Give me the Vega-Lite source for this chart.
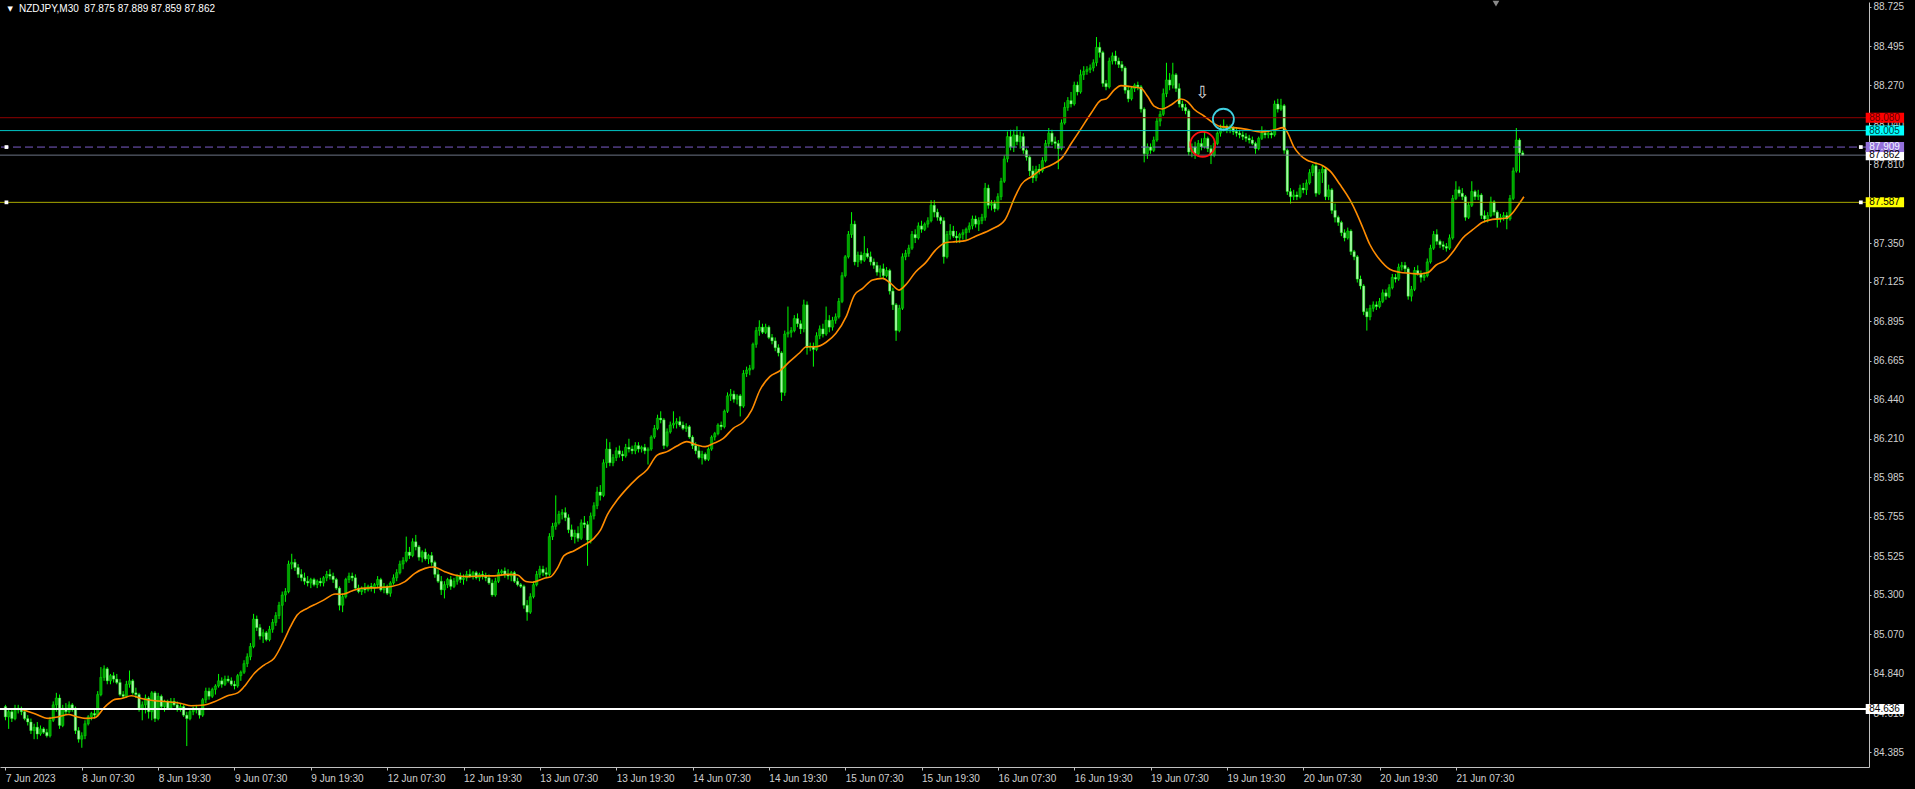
{
"$schema": "https://vega.github.io/schema/vega-lite/v6.json",
"width": 1869, "height": 765,
"autosize": {"type": "none"},
"padding": {"left": 0, "top": 2, "right": 46, "bottom": 22},
"background": "#000000",
"config": {"view": {"stroke": null}, "font": "Liberation Sans"},
"layer": [
{
"data": {"values": "i,o,h,l,c\n0,84.65,84.66,84.57,84.59\n1,84.59,84.64,84.52,84.62\n2,84.62,84.63,84.56,84.58\n3,84.58,84.66,84.57,84.64\n4,84.64,84.66,84.61,84.63\n5,84.63,84.65,84.60,84.62\n6,84.62,84.63,84.57,84.58\n7,84.58,84.60,84.54,84.56\n8,84.56,84.58,84.49,84.51\n9,84.51,84.55,84.46,84.53\n10,84.53,84.56,84.46,84.49\n11,84.49,84.54,84.48,84.52\n12,84.52,84.53,84.49,84.50\n13,84.50,84.52,84.47,84.48\n14,84.48,84.59,84.47,84.57\n15,84.57,84.68,84.56,84.66\n16,84.66,84.73,84.62,84.70\n17,84.70,84.72,84.52,84.54\n18,84.54,84.66,84.53,84.64\n19,84.64,84.67,84.60,84.62\n20,84.62,84.68,84.61,84.66\n21,84.66,84.67,84.62,84.64\n22,84.64,84.65,84.49,84.51\n23,84.51,84.53,84.44,84.46\n24,84.46,84.50,84.41,84.48\n25,84.48,84.57,84.46,84.55\n26,84.55,84.60,84.54,84.59\n27,84.59,84.62,84.57,84.61\n28,84.61,84.63,84.58,84.60\n29,84.60,84.74,84.59,84.72\n30,84.72,84.88,84.71,84.82\n31,84.82,84.89,84.80,84.87\n32,84.87,84.88,84.78,84.80\n33,84.80,84.84,84.78,84.83\n34,84.83,84.85,84.79,84.81\n35,84.81,84.84,84.78,84.79\n36,84.79,84.81,84.71,84.72\n37,84.72,84.74,84.70,84.71\n38,84.71,84.80,84.70,84.78\n39,84.78,84.86,84.76,84.80\n40,84.80,84.81,84.72,84.73\n41,84.73,84.76,84.70,84.72\n42,84.72,84.73,84.62,84.64\n43,84.64,84.68,84.57,84.66\n44,84.66,84.72,84.61,84.70\n45,84.70,84.71,84.58,84.62\n46,84.62,84.74,84.57,84.73\n47,84.73,84.74,84.56,84.58\n48,84.58,84.73,84.57,84.71\n49,84.71,84.72,84.63,84.65\n50,84.65,84.69,84.62,84.68\n51,84.68,84.69,84.63,84.64\n52,84.64,84.70,84.63,84.68\n53,84.68,84.70,84.65,84.66\n54,84.66,84.68,84.62,84.64\n55,84.64,84.67,84.62,84.65\n56,84.65,84.66,84.59,84.60\n57,84.60,84.62,84.42,84.58\n58,84.58,84.63,84.57,84.62\n59,84.62,84.65,84.60,84.64\n60,84.64,84.66,84.61,84.63\n61,84.63,84.64,84.58,84.60\n62,84.60,84.70,84.59,84.69\n63,84.69,84.76,84.67,84.74\n64,84.74,84.76,84.69,84.71\n65,84.71,84.76,84.70,84.75\n66,84.75,84.78,84.72,84.77\n67,84.77,84.84,84.76,84.80\n68,84.80,84.82,84.76,84.78\n69,84.78,84.83,84.77,84.81\n70,84.81,84.83,84.79,84.80\n71,84.80,84.82,84.77,84.78\n72,84.78,84.80,84.75,84.77\n73,84.77,84.84,84.76,84.83\n74,84.83,84.86,84.80,84.85\n75,84.85,84.92,84.84,84.90\n76,84.90,84.96,84.88,84.94\n77,84.94,85.02,84.92,85.00\n78,85.00,85.19,84.99,85.16\n79,85.16,85.18,85.09,85.11\n80,85.11,85.13,85.04,85.06\n81,85.06,85.10,85.02,85.08\n82,85.08,85.09,85.03,85.04\n83,85.04,85.12,85.03,85.10\n84,85.10,85.16,85.08,85.14\n85,85.14,85.20,85.12,85.18\n86,85.18,85.26,85.16,85.24\n87,85.24,85.32,85.08,85.30\n88,85.30,85.34,85.26,85.32\n89,85.32,85.50,85.31,85.48\n90,85.48,85.54,85.45,85.49\n91,85.49,85.51,85.44,85.46\n92,85.46,85.48,85.40,85.42\n93,85.42,85.45,85.38,85.40\n94,85.40,85.43,85.36,85.38\n95,85.38,85.41,85.35,85.37\n96,85.37,85.40,85.34,85.39\n97,85.39,85.40,85.35,85.36\n98,85.36,85.39,85.34,85.38\n99,85.38,85.40,85.35,85.37\n100,85.37,85.41,85.35,85.40\n101,85.40,85.44,85.38,85.42\n102,85.42,85.45,85.39,85.41\n103,85.41,85.43,85.37,85.39\n104,85.39,85.40,85.33,85.34\n105,85.34,85.35,85.21,85.24\n106,85.24,85.31,85.20,85.29\n107,85.29,85.40,85.28,85.39\n108,85.39,85.43,85.37,85.41\n109,85.41,85.43,85.38,85.40\n110,85.40,85.42,85.33,85.34\n111,85.34,85.36,85.31,85.32\n112,85.32,85.35,85.30,85.34\n113,85.34,85.37,85.31,85.33\n114,85.33,85.36,85.32,85.35\n115,85.35,85.37,85.32,85.34\n116,85.34,85.37,85.31,85.36\n117,85.36,85.41,85.34,85.39\n118,85.39,85.40,85.32,85.33\n119,85.33,85.37,85.31,85.35\n120,85.35,85.36,85.30,85.31\n121,85.31,85.38,85.29,85.37\n122,85.37,85.42,85.36,85.40\n123,85.40,85.45,85.38,85.43\n124,85.43,85.50,85.42,85.48\n125,85.48,85.52,85.45,85.50\n126,85.50,85.64,85.49,85.55\n127,85.55,85.58,85.51,85.53\n128,85.53,85.63,85.52,85.61\n129,85.61,85.65,85.56,85.58\n130,85.58,85.59,85.50,85.52\n131,85.52,85.56,85.49,85.55\n132,85.55,85.57,85.50,85.51\n133,85.51,85.54,85.48,85.53\n134,85.53,85.55,85.47,85.49\n135,85.49,85.50,85.40,85.42\n136,85.42,85.45,85.37,85.38\n137,85.38,85.41,85.30,85.33\n138,85.33,85.38,85.28,85.36\n139,85.36,85.40,85.34,85.39\n140,85.39,85.41,85.33,85.35\n141,85.35,85.40,85.34,85.38\n142,85.38,85.42,85.36,85.41\n143,85.41,85.43,85.37,85.39\n144,85.39,85.42,85.36,85.40\n145,85.40,85.44,85.38,85.42\n146,85.42,85.45,85.40,85.41\n147,85.41,85.44,85.39,85.43\n148,85.43,85.44,85.39,85.40\n149,85.40,85.43,85.38,85.42\n150,85.42,85.44,85.39,85.41\n151,85.41,85.43,85.38,85.40\n152,85.40,85.42,85.36,85.37\n153,85.37,85.39,85.29,85.30\n154,85.30,85.40,85.29,85.38\n155,85.38,85.45,85.37,85.43\n156,85.43,85.45,85.41,85.44\n157,85.44,85.46,85.40,85.42\n158,85.42,85.45,85.39,85.41\n159,85.41,85.44,85.38,85.43\n160,85.43,85.44,85.37,85.38\n161,85.38,85.40,85.35,85.36\n162,85.36,85.37,85.34,85.35\n163,85.35,85.36,85.22,85.24\n164,85.24,85.27,85.15,85.20\n165,85.20,85.31,85.19,85.29\n166,85.29,85.38,85.28,85.36\n167,85.36,85.44,85.35,85.42\n168,85.42,85.47,85.40,85.45\n169,85.45,85.47,85.41,85.43\n170,85.43,85.46,85.40,85.42\n171,85.42,85.66,85.41,85.64\n172,85.64,85.72,85.62,85.70\n173,85.70,85.88,85.68,85.72\n174,85.72,85.79,85.71,85.77\n175,85.77,85.80,85.74,85.78\n176,85.78,85.81,85.73,85.75\n177,85.75,85.77,85.66,85.68\n178,85.68,85.71,85.62,85.64\n179,85.64,85.68,85.60,85.66\n180,85.66,85.70,85.61,85.63\n181,85.63,85.74,85.62,85.72\n182,85.72,85.76,85.69,85.71\n183,85.71,85.73,85.47,85.62\n184,85.62,85.78,85.60,85.76\n185,85.76,85.84,85.74,85.82\n186,85.82,85.93,85.80,85.90\n187,85.90,85.94,85.85,85.88\n188,85.88,86.09,85.87,86.07\n189,86.07,86.21,86.04,86.15\n190,86.15,86.19,86.05,86.07\n191,86.07,86.12,86.05,86.10\n192,86.10,86.16,86.08,86.14\n193,86.14,86.17,86.10,86.12\n194,86.12,86.14,86.08,86.11\n195,86.11,86.18,86.10,86.16\n196,86.16,86.21,86.13,86.15\n197,86.15,86.17,86.12,86.14\n198,86.14,86.19,86.12,86.17\n199,86.17,86.19,86.13,86.15\n200,86.15,86.17,86.13,86.16\n201,86.16,86.18,86.12,86.14\n202,86.14,86.16,86.06,86.15\n203,86.15,86.23,86.14,86.22\n204,86.22,86.29,86.21,86.27\n205,86.27,86.35,86.26,86.33\n206,86.33,86.37,86.30,86.32\n207,86.32,86.33,86.15,86.17\n208,86.17,86.27,86.16,86.25\n209,86.25,86.31,86.24,86.29\n210,86.29,86.37,86.27,86.30\n211,86.30,86.33,86.27,86.31\n212,86.31,86.34,86.28,86.29\n213,86.29,86.31,86.26,86.27\n214,86.27,86.30,86.25,86.28\n215,86.28,86.29,86.21,86.22\n216,86.22,86.23,86.15,86.17\n217,86.17,86.19,86.12,86.14\n218,86.14,86.17,86.09,86.10\n219,86.10,86.14,86.06,86.12\n220,86.12,86.13,86.08,86.09\n221,86.09,86.16,86.08,86.15\n222,86.15,86.23,86.14,86.22\n223,86.22,86.25,86.20,86.24\n224,86.24,86.30,86.23,86.29\n225,86.29,86.31,86.26,86.28\n226,86.28,86.38,86.27,86.37\n227,86.37,86.48,86.36,86.46\n228,86.46,86.50,86.43,86.47\n229,86.47,86.49,86.42,86.44\n230,86.44,86.47,86.41,86.46\n231,86.46,86.47,86.34,86.40\n232,86.40,86.61,86.39,86.59\n233,86.59,86.63,86.57,86.61\n234,86.61,86.64,86.58,86.62\n235,86.62,86.77,86.61,86.76\n236,86.76,86.86,86.74,86.84\n237,86.84,86.90,86.81,86.86\n238,86.86,86.88,86.82,86.83\n239,86.83,86.88,86.82,86.86\n240,86.86,86.87,86.79,86.80\n241,86.80,86.82,86.76,86.78\n242,86.78,86.80,86.72,86.74\n243,86.74,86.76,86.69,86.71\n244,86.71,86.72,86.43,86.48\n245,86.48,86.84,86.46,86.82\n246,86.82,86.98,86.80,86.83\n247,86.83,86.86,86.80,86.84\n248,86.84,86.93,86.83,86.91\n249,86.91,86.94,86.86,86.88\n250,86.88,86.90,86.82,86.85\n251,86.85,87.02,86.83,86.99\n252,86.99,87.01,86.70,86.74\n253,86.74,86.77,86.72,86.75\n254,86.75,86.77,86.63,86.73\n255,86.73,86.83,86.72,86.81\n256,86.81,86.87,86.79,86.85\n257,86.85,86.88,86.80,86.82\n258,86.82,86.98,86.81,86.90\n259,86.90,86.93,86.83,86.86\n260,86.86,86.92,86.84,86.90\n261,86.90,86.94,86.88,86.92\n262,86.92,87.03,86.91,87.01\n263,87.01,87.18,87.00,87.16\n264,87.16,87.28,87.15,87.27\n265,87.27,87.42,87.26,87.40\n266,87.40,87.53,87.38,87.46\n267,87.46,87.48,87.22,87.24\n268,87.24,87.30,87.21,87.28\n269,87.28,87.30,87.23,87.25\n270,87.25,87.39,87.24,87.29\n271,87.29,87.32,87.26,87.27\n272,87.27,87.30,87.22,87.24\n273,87.24,87.26,87.20,87.22\n274,87.22,87.24,87.16,87.18\n275,87.18,87.22,87.15,87.20\n276,87.20,87.23,87.14,87.16\n277,87.16,87.21,87.15,87.19\n278,87.19,87.20,87.05,87.07\n279,87.07,87.09,86.96,86.99\n280,86.99,87.00,86.78,86.84\n281,86.84,86.99,86.83,86.97\n282,86.97,87.29,86.96,87.27\n283,87.27,87.31,87.25,87.29\n284,87.29,87.34,87.27,87.32\n285,87.32,87.42,87.31,87.40\n286,87.40,87.43,87.35,87.38\n287,87.38,87.47,87.37,87.45\n288,87.45,87.48,87.41,87.43\n289,87.43,87.47,87.42,87.46\n290,87.46,87.50,87.44,87.48\n291,87.48,87.60,87.47,87.57\n292,87.57,87.60,87.50,87.53\n293,87.53,87.55,87.48,87.50\n294,87.50,87.51,87.46,87.48\n295,87.48,87.50,87.23,87.27\n296,87.27,87.42,87.26,87.40\n297,87.40,87.46,87.37,87.42\n298,87.42,87.45,87.38,87.39\n299,87.39,87.42,87.35,87.38\n300,87.38,87.41,87.35,87.40\n301,87.40,87.43,87.37,87.41\n302,87.41,87.44,87.37,87.43\n303,87.43,87.47,87.41,87.45\n304,87.45,87.51,87.43,87.49\n305,87.49,87.51,87.44,87.46\n306,87.46,87.50,87.42,87.48\n307,87.48,87.52,87.46,87.50\n308,87.50,87.70,87.48,87.67\n309,87.67,87.69,87.55,87.57\n310,87.57,87.60,87.54,87.58\n311,87.58,87.60,87.53,87.55\n312,87.55,87.64,87.54,87.62\n313,87.62,87.73,87.60,87.71\n314,87.71,87.86,87.70,87.84\n315,87.84,88.00,87.82,87.97\n316,87.97,88.01,87.89,87.91\n317,87.91,88.01,87.88,87.98\n318,87.98,88.03,87.92,87.94\n319,87.94,88.00,87.90,87.97\n320,87.97,87.99,87.87,87.89\n321,87.89,87.90,87.83,87.85\n322,87.85,87.86,87.74,87.77\n323,87.77,87.80,87.70,87.73\n324,87.73,87.80,87.71,87.78\n325,87.78,87.81,87.75,87.77\n326,87.77,87.85,87.76,87.83\n327,87.83,87.95,87.82,87.93\n328,87.93,88.02,87.91,87.99\n329,87.99,88.01,87.92,87.94\n330,87.94,87.97,87.90,87.93\n331,87.93,87.95,87.78,87.90\n332,87.90,88.07,87.89,88.05\n333,88.05,88.17,88.04,88.14\n334,88.14,88.20,88.12,88.18\n335,88.18,88.23,88.14,88.16\n336,88.16,88.29,88.15,88.27\n337,88.27,88.29,88.21,88.23\n338,88.23,88.36,88.22,88.33\n339,88.33,88.38,88.30,88.35\n340,88.35,88.38,88.33,88.36\n341,88.36,88.39,88.34,88.37\n342,88.37,88.42,88.35,88.40\n343,88.40,88.55,88.38,88.49\n344,88.49,88.52,88.43,88.46\n345,88.46,88.47,88.26,88.28\n346,88.28,88.30,88.24,88.26\n347,88.26,88.43,88.25,88.41\n348,88.41,88.46,88.39,88.44\n349,88.44,88.47,88.39,88.41\n350,88.41,88.43,88.37,88.39\n351,88.39,88.41,88.35,88.37\n352,88.37,88.38,88.22,88.24\n353,88.24,88.26,88.17,88.19\n354,88.19,88.26,88.18,88.25\n355,88.25,88.28,88.23,88.27\n356,88.27,88.29,88.24,88.26\n357,88.26,88.27,88.11,88.13\n358,88.13,88.14,87.82,87.87\n359,87.87,87.93,87.84,87.91\n360,87.91,87.93,87.87,87.89\n361,87.89,87.97,87.88,87.95\n362,87.95,88.08,87.94,88.06\n363,88.06,88.12,88.03,88.10\n364,88.10,88.25,88.09,88.22\n365,88.22,88.40,88.20,88.30\n366,88.30,88.34,88.24,88.27\n367,88.27,88.40,88.25,88.33\n368,88.33,88.34,88.23,88.25\n369,88.25,88.28,88.14,88.16\n370,88.16,88.18,88.12,88.14\n371,88.14,88.16,88.10,88.12\n372,88.12,88.13,87.86,87.88\n373,87.88,87.93,87.85,87.91\n374,87.91,87.94,87.84,87.87\n375,87.87,87.95,87.86,87.93\n376,87.93,87.96,87.89,87.91\n377,87.91,88.00,87.90,87.96\n378,87.96,87.97,87.88,87.90\n379,87.90,87.92,87.81,87.86\n380,87.86,87.95,87.85,87.93\n381,87.93,88.00,87.92,87.99\n382,87.99,88.04,87.97,88.02\n383,88.02,88.07,88.00,88.03\n384,88.03,88.04,87.99,88.01\n385,88.01,88.04,87.99,88.02\n386,88.02,88.03,87.98,88.00\n387,88.00,88.02,87.97,87.99\n388,87.99,88.01,87.96,87.98\n389,87.98,88.00,87.95,87.97\n390,87.97,87.99,87.94,87.96\n391,87.96,87.98,87.93,87.95\n392,87.95,87.97,87.92,87.93\n393,87.93,87.94,87.87,87.90\n394,87.90,87.97,87.89,87.96\n395,87.96,88.03,87.95,87.99\n396,87.99,88.01,87.96,87.98\n397,87.98,88.00,87.96,87.99\n398,87.99,88.00,87.96,87.98\n399,87.98,88.18,87.97,88.16\n400,88.16,88.19,88.11,88.13\n401,88.13,88.19,88.12,88.15\n402,88.15,88.16,87.87,87.89\n403,87.89,87.90,87.63,87.65\n404,87.65,87.67,87.58,87.62\n405,87.62,87.66,87.60,87.63\n406,87.63,87.65,87.60,87.62\n407,87.62,87.69,87.61,87.67\n408,87.67,87.70,87.64,87.66\n409,87.66,87.72,87.63,87.70\n410,87.70,87.78,87.69,87.76\n411,87.76,87.81,87.74,87.80\n412,87.80,87.82,87.62,87.64\n413,87.64,87.78,87.63,87.76\n414,87.76,87.80,87.70,87.78\n415,87.78,87.79,87.60,87.62\n416,87.62,87.69,87.60,87.66\n417,87.66,87.67,87.52,87.54\n418,87.54,87.58,87.47,87.50\n419,87.50,87.51,87.45,87.47\n420,87.47,87.48,87.39,87.41\n421,87.41,87.43,87.36,87.38\n422,87.38,87.44,87.37,87.42\n423,87.42,87.43,87.28,87.30\n424,87.30,87.31,87.25,87.27\n425,87.27,87.28,87.12,87.14\n426,87.14,87.16,87.08,87.10\n427,87.10,87.11,86.93,86.95\n428,86.95,86.97,86.84,86.92\n429,86.92,86.99,86.90,86.97\n430,86.97,87.01,86.95,86.99\n431,86.99,87.01,86.96,86.98\n432,86.98,87.03,86.97,87.01\n433,87.01,87.08,87.00,87.06\n434,87.06,87.08,87.02,87.04\n435,87.04,87.11,87.03,87.09\n436,87.09,87.17,87.08,87.15\n437,87.15,87.17,87.12,87.14\n438,87.14,87.23,87.13,87.21\n439,87.21,87.24,87.19,87.22\n440,87.22,87.24,87.18,87.20\n441,87.20,87.21,87.02,87.04\n442,87.04,87.10,87.01,87.08\n443,87.08,87.21,87.07,87.19\n444,87.19,87.22,87.16,87.17\n445,87.17,87.19,87.12,87.15\n446,87.15,87.18,87.13,87.16\n447,87.16,87.26,87.15,87.24\n448,87.24,87.34,87.23,87.32\n449,87.32,87.42,87.31,87.40\n450,87.40,87.43,87.34,87.36\n451,87.36,87.37,87.32,87.34\n452,87.34,87.36,87.31,87.33\n453,87.33,87.35,87.30,87.32\n454,87.32,87.40,87.31,87.38\n455,87.38,87.63,87.37,87.61\n456,87.61,87.71,87.60,87.66\n457,87.66,87.68,87.62,87.64\n458,87.64,87.67,87.60,87.62\n459,87.62,87.63,87.48,87.50\n460,87.50,87.59,87.49,87.57\n461,87.57,87.71,87.56,87.65\n462,87.65,87.66,87.60,87.62\n463,87.62,87.66,87.60,87.63\n464,87.63,87.64,87.49,87.51\n465,87.51,87.54,87.47,87.49\n466,87.49,87.53,87.47,87.51\n467,87.51,87.62,87.50,87.59\n468,87.59,87.60,87.51,87.53\n469,87.53,87.54,87.44,87.49\n470,87.49,87.52,87.47,87.50\n471,87.50,87.53,87.48,87.51\n472,87.51,87.53,87.43,87.49\n473,87.49,87.63,87.48,87.61\n474,87.61,87.79,87.60,87.77\n475,87.77,88.02,87.76,87.95\n476,87.95,87.96,87.76,87.875\n477,87.875,87.889,87.859,87.862", "format": {"type": "csv", "parse": {"i": "number", "o": "number", "h": "number", "l": "number", "c": "number"}}},
"layer": [
{"mark": {"type": "rule", "color": "#00ff00", "strokeWidth": 1},
 "encoding": {
  "x": {"field": "i", "type": "quantitative", "title": null, "scale": {"domain": [-0.15, 584.3], "nice": false, "zero": false},
   "axis": {"orient": "bottom", "values": [0,24,48,72,96,120,144,168,192,216,240,264,288,312,336,360,384,408,432,456],
    "labelExpr": "['7 Jun 2023','8 Jun 07:30','8 Jun 19:30','9 Jun 07:30','9 Jun 19:30','12 Jun 07:30','12 Jun 19:30','13 Jun 07:30','13 Jun 19:30','14 Jun 07:30','14 Jun 19:30','15 Jun 07:30','15 Jun 19:30','16 Jun 07:30','16 Jun 19:30','19 Jun 07:30','19 Jun 19:30','20 Jun 07:30','20 Jun 19:30','21 Jun 07:30'][round(datum.value/24)]",
    "labelAlign": "left", "labelBaseline": "top", "labelColor": "#d0d0d0", "labelFont": "Liberation Sans", "labelFontSize": 10, "labelPadding": 3, "labelDx": 0,
    "labelOverlap": false, "labelBound": false, "labelFlush": false,
    "tickColor": "#c0c0c0", "tickSize": 3, "domainColor": "#c0c0c0", "domainWidth": 1, "grid": false}},
  "y": {"field": "l", "type": "quantitative", "title": null, "scale": {"domain": [84.298, 88.754], "nice": false, "zero": false},
   "axis": {"orient": "right", "values": [88.725,88.495,88.27,88.04,87.81,87.58,87.35,87.125,86.895,86.665,86.44,86.21,85.985,85.755,85.525,85.3,85.07,84.84,84.61,84.385],
    "format": ".3f", "labelAlign": "left", "labelBaseline": "middle", "labelColor": "#d0d0d0", "labelFont": "Liberation Sans", "labelFontSize": 10, "labelPadding": 2,
    "labelOverlap": false, "labelBound": false, "labelFlush": false,
    "tickColor": "#c0c0c0", "tickSize": 2, "domainColor": "#c0c0c0", "domainWidth": 1, "grid": false}},
  "y2": {"field": "h"}
 }},
{"mark": {"type": "bar", "width": 2.4, "stroke": "#00ff00", "strokeWidth": 0.4},
 "encoding": {
  "x": {"field": "i", "type": "quantitative", "title": null},
  "y": {"field": "o", "type": "quantitative", "title": null},
  "y2": {"field": "c"},
  "color": {"condition": {"test": "datum.c >= datum.o", "value": "#00a000"}, "value": "#a8f5a8"}
 }}
]},
{
"data": {"values": "i,v\n5,84.635\n9,84.61\n13.5,84.581\n16.7,84.591\n19.8,84.604\n22.4,84.591\n25,84.581\n28.1,84.585\n31.3,84.649\n34.4,84.692\n36.5,84.697\n39.6,84.713\n42.7,84.697\n46.9,84.684\n51.1,84.678\n55.2,84.668\n58.4,84.655\n62.5,84.659\n65.7,84.678\n69.8,84.713\n73,84.73\n75,84.765\n78.2,84.843\n81.3,84.892\n84.4,84.93\n87.6,85.037\n89.6,85.115\n91.7,85.183\n94.9,85.222\n98,85.251\n100,85.27\n103.7,85.306\n105.8,85.304\n108.9,85.323\n112,85.339\n117.3,85.343\n121.4,85.349\n125.6,85.378\n128.7,85.426\n131.9,85.455\n134.5,85.463\n138.1,85.436\n141.2,85.416\n145.4,85.407\n149.6,85.411\n153.7,85.411\n157.9,85.42\n161,85.416\n163.6,85.378\n165.7,85.374\n169.4,85.397\n171.5,85.407\n173.5,85.455\n175.6,85.529\n178.8,85.558\n181.9,85.591\n185,85.63\n187.1,85.679\n189.2,85.766\n192.3,85.853\n195.4,85.921\n198.6,85.981\n201.7,86.03\n204.9,86.115\n208,86.135\n211.1,86.168\n214.2,86.193\n217.4,86.174\n220,86.164\n222.6,86.183\n225.7,86.212\n228.8,86.271\n232,86.309\n234.6,86.377\n237.2,86.494\n240.3,86.572\n243.4,86.605\n246.5,86.659\n249.7,86.711\n251.8,86.746\n254.9,86.746\n258,86.772\n261.1,86.824\n264.3,86.921\n266.9,87.047\n269.5,87.086\n272.6,87.135\n275.7,87.144\n278.3,87.115\n280.9,87.076\n283,87.106\n286.2,87.183\n289.3,87.236\n292.4,87.309\n295.5,87.352\n298.7,87.358\n301.8,87.364\n305,87.39\n310,87.43\n314.2,87.484\n317.4,87.62\n319.4,87.692\n322.6,87.737\n325.7,87.779\n328.8,87.805\n332,87.843\n335.1,87.931\n338.2,88.018\n341.3,88.106\n344.5,88.183\n346,88.189\n348.6,88.242\n350.7,88.267\n353.8,88.261\n357,88.251\n359.1,88.203\n361.1,88.148\n363.7,88.131\n366.4,88.154\n369.5,88.189\n371.6,88.174\n373.6,88.131\n376.8,88.09\n379.9,88.047\n382,88.028\n386.2,88.022\n390.3,88.012\n394.5,87.997\n398.7,88.008\n401.8,88.022\n402.9,87.999\n405,87.912\n407,87.863\n409.1,87.834\n411.2,87.819\n414.3,87.799\n416.4,87.77\n419.5,87.692\n422.7,87.601\n424.8,87.523\n426.8,87.436\n428.9,87.343\n432.1,87.252\n435.2,87.197\n438.3,87.18\n441.4,87.174\n444.6,87.17\n447.2,87.178\n449.8,87.222\n452.9,87.252\n455.5,87.31\n458.1,87.378\n461.2,87.426\n464.4,87.471\n467.5,87.488\n471.7,87.494\n473.7,87.523\n475.8,87.576\n477.4,87.62", "format": {"type": "csv", "parse": {"i": "number", "v": "number"}}},
"mark": {"type": "line", "color": "#ff8c00", "strokeWidth": 1.6, "interpolate": "monotone"},
"encoding": {
 "x": {"field": "i", "type": "quantitative", "title": null},
 "y": {"field": "v", "type": "quantitative", "title": null}
}},
{
"data": {"values": [
 {"name": "red", "p": 88.080, "t": "88.080"},
 {"name": "cyan", "p": 88.005, "t": "88.005"},
 {"name": "bid", "p": 87.862, "t": "87.862"},
 {"name": "purple", "p": 87.909, "t": "87.909"},
 {"name": "yellow", "p": 87.587, "t": "87.587"},
 {"name": "white", "p": 84.636, "t": "84.636"}
]},
"layer": [
 {"transform": [{"filter": "datum.name != 'purple' && datum.name != 'white'"}],
  "mark": {"type": "rule", "strokeWidth": 1},
  "encoding": {
   "y": {"field": "p", "type": "quantitative", "title": null},
   "color": {"field": "name", "type": "nominal", "legend": null,
    "scale": {"domain": ["red","cyan","bid","purple","yellow","white"], "range": ["#900000","#00c4c4","#6c7484","#7a5cc8","#a8a800","#ffffff"]}}
  }},
 {"transform": [{"filter": "datum.name == 'purple'"}],
  "mark": {"type": "rule", "strokeWidth": 1, "color": "#7a5cc8", "strokeDash": [8, 4]},
  "encoding": {"y": {"field": "p", "type": "quantitative", "title": null}}},
 {"transform": [{"filter": "datum.name == 'white'"}],
  "mark": {"type": "rule", "strokeWidth": 2, "color": "#ffffff"},
  "encoding": {"y": {"field": "p", "type": "quantitative", "title": null}}},
 {"mark": {"type": "rule", "strokeWidth": 10, "strokeCap": "butt"},
  "encoding": {
   "x": {"datum": 584.84, "type": "quantitative"},
   "x2": {"datum": 596.9},
   "y": {"field": "p", "type": "quantitative", "title": null},
   "stroke": {"field": "name", "type": "nominal", "legend": null,
    "scale": {"domain": ["red","cyan","bid","purple","yellow","white"], "range": ["#ff0000","#00ffff","#ffffff","#9370db","#ffff00","#ffffff"]}}
  }},
 {"mark": {"type": "text", "align": "left", "baseline": "middle", "font": "Liberation Sans", "fontSize": 10},
  "encoding": {
   "x": {"datum": 585.96, "type": "quantitative"},
   "y": {"field": "p", "type": "quantitative", "title": null},
   "text": {"field": "t"},
   "fill": {"field": "name", "type": "nominal", "legend": null,
    "scale": {"domain": ["red","cyan","bid","purple","yellow","white"], "range": ["#600000","#004040","#000000","#f0f0ff","#000000","#000000"]}}
  }},
 {"transform": [{"filter": "datum.name == 'purple' || datum.name == 'yellow'"}],
  "layer": [
   {"mark": {"type": "point", "shape": "square", "filled": true, "size": 14, "color": "#ffffff", "opacity": 1},
    "encoding": {"x": {"datum": 0.3, "type": "quantitative"}, "y": {"field": "p", "type": "quantitative", "title": null}}},
   {"mark": {"type": "point", "shape": "square", "filled": true, "size": 14, "color": "#ffffff", "opacity": 1},
    "encoding": {"x": {"datum": 583.3, "type": "quantitative"}, "y": {"field": "p", "type": "quantitative", "title": null}}}
  ]}
]},
{"data": {"values": [{"i": 376.4, "p": 87.925}]},
 "mark": {"type": "point", "shape": "circle", "filled": false, "size": 620, "color": "#ff1010", "strokeWidth": 1.8, "opacity": 1},
 "encoding": {"x": {"field": "i", "type": "quantitative", "title": null}, "y": {"field": "p", "type": "quantitative", "title": null}}},
{"data": {"values": [{"i": 382.9, "p": 88.071}]},
 "mark": {"type": "point", "shape": "circle", "filled": false, "size": 441, "color": "#40d0e0", "strokeWidth": 1.8, "opacity": 1},
 "encoding": {"x": {"field": "i", "type": "quantitative", "title": null}, "y": {"field": "p", "type": "quantitative", "title": null}}},
{"data": {"values": [{"i": 376.3, "p": 88.225, "t": "⇩"}]},
 "mark": {"type": "text", "font": "DejaVu Sans", "fontSize": 17, "color": "#d8d8d8", "align": "center", "baseline": "middle"},
 "encoding": {"x": {"field": "i", "type": "quantitative", "title": null}, "y": {"field": "p", "type": "quantitative", "title": null}, "text": {"field": "t"}}},
{"data": {"values": [{"t": "NZDJPY,M30\u00a0 87.875 87.889 87.859 87.862"}]},
 "mark": {"type": "text", "font": "Liberation Sans", "fontSize": 10, "color": "#ffffff", "align": "left", "baseline": "middle"},
 "encoding": {"x": {"datum": 4.23, "type": "quantitative"}, "y": {"datum": 88.713, "type": "quantitative"}, "text": {"field": "t"}}},
{"data": {"values": [{"t": "▼"}]},
 "mark": {"type": "text", "font": "DejaVu Sans", "fontSize": 7, "color": "#ffffff", "align": "center", "baseline": "middle"},
 "encoding": {"x": {"datum": 1.5, "type": "quantitative"}, "y": {"datum": 88.713, "type": "quantitative"}, "text": {"field": "t"}}},
{"data": {"values": [{"t": "shift"}]},
 "mark": {"type": "point", "shape": "triangle-down", "filled": true, "size": 45, "color": "#8a8a8a", "opacity": 1},
 "encoding": {"x": {"datum": 468.6, "type": "quantitative"}, "y": {"datum": 88.745, "type": "quantitative"}}}
]
}
